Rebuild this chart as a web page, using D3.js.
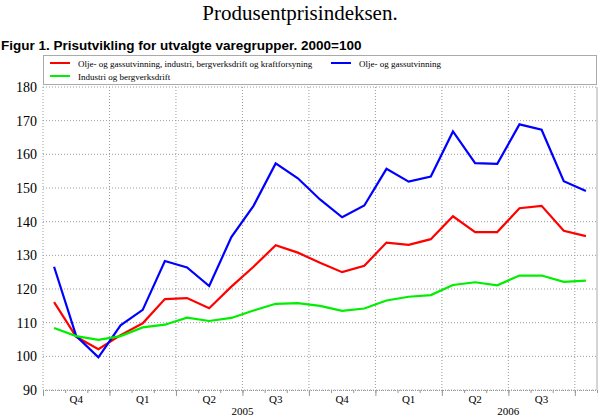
<meta charset="utf-8">
<head>
<script src="https://d3js.org/d3.v7.min.js"></script>
<style>
  body { margin: 0; background: #fff; }
</style>
</head>
<body>
<div id="container"></div>
<script>

// monthly observations, Oct 2004 - Oct 2006
var months = ["2004-10","2004-11","2004-12",
  "2005-01","2005-02","2005-03","2005-04","2005-05","2005-06",
  "2005-07","2005-08","2005-09","2005-10","2005-11","2005-12",
  "2006-01","2006-02","2006-03","2006-04","2006-05","2006-06",
  "2006-07","2006-08","2006-09","2006-10"];

var total = [116.1,105.8,102.1,106.3,109.8,117.0,117.3,114.3,120.7,126.6,133.0,130.8,
  127.8,125.0,126.9,133.8,133.1,134.8,141.6,136.9,136.9,144.0,144.7,137.3,135.7];
var olje = [126.6,106.0,99.7,109.2,113.8,128.3,126.4,120.9,135.4,144.7,157.3,152.9,
  146.6,141.3,144.8,155.7,151.9,153.4,166.8,157.4,157.2,168.9,167.3,152.0,149.1];
var industri = [108.4,106.0,104.9,106.0,108.6,109.4,111.5,110.5,111.4,113.6,115.6,115.8,
  115.0,113.5,114.2,116.6,117.7,118.2,121.2,122.0,121.1,124.0,124.0,122.1,122.5];

var seriesNames = ["Olje- og gassutvinning, industri, bergverksdrift og kraftforsyning",
  "Olje- og gassutvinning", "Industri og bergverksdrift"];
var seriesColors = ["#ff0000", "#0000ff", "#00ee00"];

var quarterLabels = ["Q4","Q1","Q2","Q3","Q4","Q1","Q2","Q3"];
var yearLabels = ["2005","2006"];
var yTicks = [90,100,110,120,130,140,150,160,170,180];

var serif = '"Liberation Serif", "Times New Roman", serif';
var width = 600, height = 416;
var pLeft = 43, pRight = 597, pTop = 87, pBottom = 390;

var svg = d3.select('#container').append('svg')
  .attr('width', width).attr('height', height);

var x = d3.scaleLinear().domain([0, months.length]).range([pLeft, pRight]);
var y = d3.scaleLinear().domain([90, 180]).range([pBottom, pTop]);

// titles
svg.append('text').style('font-family', serif)
  .attr('x', 300).attr('y', 20).attr('text-anchor', 'middle')
  .style('font-size', '21px').text('Produsentprisindeksen.');
svg.append('text')
  .attr('x', 1).attr('y', 50)
  .style('font-family', '"Liberation Sans", Arial, sans-serif')
  .style('font-weight', 'bold').style('font-size', '13.5px')
  .text('Figur 1. Prisutvikling for utvalgte varegrupper. 2000=100');

// legend
var lg = svg.append('g');
lg.append('rect').attr('x', 43.5).attr('y', 55.5).attr('width', 553).attr('height', 29)
  .attr('fill', 'none').attr('stroke', '#aaa');
var legendPos = [[50, 63], [331, 63], [50, 76]];
seriesNames.forEach(function(name, i) {
  var p = legendPos[i];
  lg.append('line').attr('x1', p[0]).attr('x2', p[0] + 20).attr('y1', p[1]).attr('y2', p[1])
    .attr('stroke', seriesColors[i]).attr('stroke-width', 2);
  lg.append('text').style('font-family', serif).attr('x', p[0] + 28).attr('y', p[1] + 3.5)
    .style('font-size', '9px').text(name);
});

// grid
var grid = svg.append('g').attr('stroke', '#999').attr('stroke-dasharray', '1,2');
yTicks.forEach(function(t) {
  grid.append('line').attr('x1', pLeft).attr('x2', pRight).attr('y1', y(t)).attr('y2', y(t));
});
d3.range(3, months.length, 3).forEach(function(m) {
  grid.append('line').attr('x1', x(m)).attr('x2', x(m)).attr('y1', pTop).attr('y2', pBottom);
});
grid.append('line').attr('x1', pLeft).attr('x2', pLeft).attr('y1', pTop).attr('y2', pBottom);
svg.append('line').attr('x1', pRight).attr('x2', pRight).attr('y1', pTop).attr('y2', pBottom)
  .attr('stroke', '#aaa');

// y axis
var yAxis = svg.append('g').attr('transform', 'translate(' + pLeft + ',0)')
  .call(d3.axisLeft(y).tickValues(yTicks).tickSize(0).tickPadding(6));
yAxis.select('.domain').remove();
yAxis.attr('font-family', null);
yAxis.selectAll('text').style('font-family', serif).style('font-size', '14px').attr('fill', '#000');

// x axis: month ticks and quarter ticks
var xMinor = svg.append('g').attr('transform', 'translate(0,' + pBottom + ')')
  .call(d3.axisBottom(x).tickValues(d3.range(0, months.length + 1)).tickSize(3).tickFormat(''));
xMinor.select('.domain').attr('stroke', '#999').attr('stroke-dasharray', '1,1');
xMinor.selectAll('line').attr('stroke', '#999');
var xMajor = svg.append('g').attr('transform', 'translate(0,' + pBottom + ')')
  .call(d3.axisBottom(x).tickValues(d3.range(0, months.length, 3)).tickSize(6).tickFormat(''));
xMajor.select('.domain').remove();
xMajor.selectAll('line').attr('stroke', '#999');

quarterLabels.forEach(function(q, i) {
  svg.append('text').style('font-family', serif)
    .attr('x', x(i * 3 + 1.5)).attr('y', 403).attr('text-anchor', 'middle')
    .style('font-size', '11px').text(q);
});
yearLabels.forEach(function(yr, i) {
  svg.append('text').style('font-family', serif)
    .attr('x', x(3 + i * 12 + 6)).attr('y', 415).attr('text-anchor', 'middle')
    .style('font-size', '11px').text(yr);
});

// lines
var line = d3.line().x(function(d, i) { return x(i + 0.5); }).y(function(d) { return y(d); });
[total, olje, industri].forEach(function(s, i) {
  svg.append('path').datum(s).attr('d', line)
    .attr('fill', 'none').attr('stroke', seriesColors[i]).attr('stroke-width', 2.2)
    .attr('stroke-linejoin', 'miter');
});

</script>
</body>
